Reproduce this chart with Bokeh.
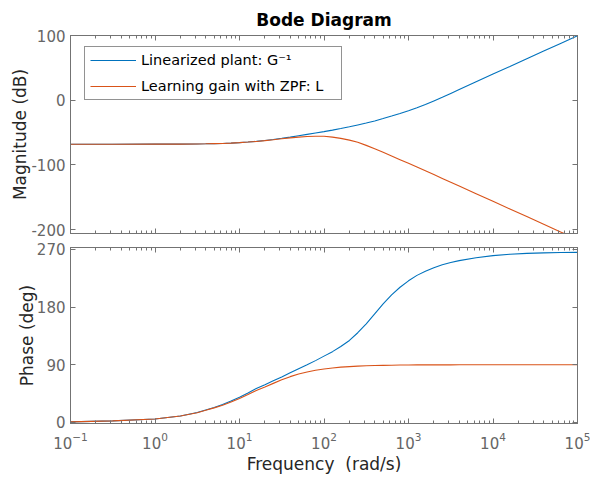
from bokeh.plotting import figure
from bokeh.models import (FixedTicker, LogAxis, LinearAxis, Legend, LegendItem,
                          CustomJSTickFormatter)
from bokeh.layouts import column
from bokeh.embed import file_html
from bokeh.resources import INLINE

# ---- data (frequency in rad/s) ----
freq = [0.1, 0.316, 1, 2, 3.16, 3.98, 5.01, 6.31, 7.94, 10, 12.6, 15.8, 20,
        25.1, 31.6, 39.8, 50.1, 63.1, 79.4, 100, 126, 158, 200, 251, 316, 398,
        501, 631, 794, 1000, 1259, 1585, 1995, 2512, 3162, 3981, 6310, 10000,
        15849, 25119, 39811, 63096, 100000]

mag_plant_inv = [-68, -68, -67.9, -67.8, -67.6, -67.4, -67.1, -66.8, -66.3,
                 -65.6, -64.7, -63.6, -62.2, -60.7, -58.9, -57, -54.9, -52.8,
                 -50.7, -48.6, -46.3, -43.8, -41.1, -38.2, -35.2, -32, -28.4,
                 -24.5, -20.4, -16.2, -11.7, -6.8, -1.2, 4.5, 10.5, 16.5, 28.5,
                 40.5, 52, 64, 76, 87.8, 99.5]
mag_learning = [-68, -68, -67.9, -67.8, -67.6, -67.4, -67.1, -66.8, -66.3,
                -65.6, -64.7, -63.7, -62.4, -61.1, -59.6, -58.2, -57, -56.1,
                -55.6, -55.8, -57, -59, -61.7, -65, -69.8, -75, -80.5, -86.2,
                -91.9, -97.6, -103.4, -109.2, -115, -120.9, -126.8, -132.7,
                -144.5, -156.3, -168.1, -179.9, -191.7, -203.5, -215.3]

phase_plant_inv = [1, 2.5, 5.5, 10, 15.5, 19.5, 23.5, 28, 33.5, 39.5, 46, 53,
                   59, 65, 71, 77.5, 84, 90, 96.5, 103.5, 110.5, 118.5, 128,
                   140, 154, 169.5, 185, 199, 211, 221, 229.5, 236, 241.5, 246,
                   249.5, 252.5, 257, 260.3, 262.5, 263.8, 264.6, 265.1, 265.4]
phase_learning = [1, 2.5, 5.5, 10, 15.3, 19, 22.8, 27, 32, 37.3, 43.5, 50,
                  55.5, 61, 66.5, 71.5, 75.5, 78.8, 81.5, 83.5, 85.1, 86.3,
                  87.2, 87.9, 88.4, 88.8, 89.1, 89.4, 89.6, 89.7, 89.8, 89.8,
                  89.9, 89.9, 89.9, 90, 90, 90, 90, 90, 90, 90, 90]

series_labels = ["Linearized plant: G\u207b\u00b9", "Learning gain with ZPF: L"]
mag_ticks = [-200, -100, 0, 100]
phase_ticks = [0, 90, 180, 270]
freq_ticks = [0.1, 1, 10, 100, 1000, 10000, 100000]
freq_minor = [m * t for t in freq_ticks[:-1] for m in range(2, 10)]

BLUE = "#0072BD"
ORANGE = "#D95319"
AXC = "#737373"
TICKC = "#666666"
LABC = "#262626"
FONT = "DejaVu Sans"

W = 590


def style_axis(ax, show_labels=True):
    ax.axis_line_color = AXC
    ax.major_tick_line_color = AXC
    ax.minor_tick_line_color = AXC
    ax.major_tick_in = 5
    ax.major_tick_out = 0
    ax.minor_tick_in = 3
    ax.minor_tick_out = 0
    ax.major_label_text_font = FONT
    ax.major_label_text_color = TICKC
    ax.major_label_text_font_size = "15px"
    if not show_labels:
        ax.formatter = CustomJSTickFormatter(code="return ''")
        ax.major_label_text_font_size = "1px"
        ax.major_label_standoff = 0
    ax.axis_label_text_font = FONT
    ax.axis_label_text_font_style = "normal"
    ax.axis_label_text_font_size = "17px"
    ax.axis_label_text_color = LABC


def base_fig(height, y_range, yt, mb_top, mb_bottom, x_labels, ylab,
             ylab_standoff, xlab=None):
    p = figure(width=W, height=height, x_axis_type="log",
               x_range=(0.1, 100000), y_range=y_range,
               output_backend="svg", toolbar_location=None,
               min_border_left=70, min_border_right=13,
               min_border_top=mb_top, min_border_bottom=mb_bottom)
    p.grid.visible = False
    p.outline_line_color = AXC
    p.background_fill_color = "white"
    p.border_fill_color = "white"
    xt = FixedTicker(ticks=freq_ticks, minor_ticks=freq_minor)
    ytk = FixedTicker(ticks=yt, minor_ticks=[])
    bx = p.below[0]
    ly = p.left[0]
    bx.ticker = xt
    ly.ticker = ytk
    style_axis(bx, x_labels)
    if x_labels:
        bx.major_label_standoff = 8
    if xlab:
        bx.axis_label = xlab
        bx.axis_label_standoff = 2
    style_axis(ly, True)
    ly.major_label_overrides = {t: str(t) for t in yt}
    ly.major_label_standoff = 5
    ly.axis_label_standoff = ylab_standoff
    ly.axis_label = ylab
    top = LogAxis(ticker=xt)
    style_axis(top, False)
    right = LinearAxis(ticker=ytk)
    style_axis(right, False)
    p.add_layout(top, "above")
    p.add_layout(right, "right")
    return p


# ---- magnitude ----
p1 = base_fig(240, (-206, 100), mag_ticks, 35, 7, False, "Magnitude (dB)", -2)
r1 = p1.line(freq, mag_plant_inv, line_color=BLUE, line_width=1.1)
r2 = p1.line(freq, mag_learning, line_color=ORANGE, line_width=1.1)
p1.title.text = "Bode Diagram"
p1.title.align = "center"
p1.title.text_font = FONT
p1.title.text_font_size = "17px"
p1.title.text_font_style = "bold"
p1.title.text_color = "#000000"
p1.title.standoff = 12

legend = Legend(items=[LegendItem(label=series_labels[0], renderers=[r1]),
                       LegendItem(label=series_labels[1], renderers=[r2])],
                location=(14, 133))
legend.padding = 5
legend.spacing = 10
legend.label_height = 16
legend.glyph_height = 16
legend.glyph_width = 46
legend.label_standoff = 5
legend.label_width = 195
legend.label_text_font = FONT
legend.label_text_font_size = "14.5px"
legend.label_text_color = "#000000"
legend.border_line_color = LABC
legend.border_line_width = 1
legend.background_fill_color = "white"
legend.background_fill_alpha = 1
p1.add_layout(legend)

# ---- phase ----
p2 = base_fig(236, (-1.6, 273), phase_ticks, 7, 53, True, "Phase (deg)", -3,
              "Frequency\u00a0 (rad/s)")
p2.x_range = p1.x_range
p2.line(freq, phase_plant_inv, line_color=BLUE, line_width=1.1)
p2.line(freq, phase_learning, line_color=ORANGE, line_width=1.1)

layout = column(p1, p2)
open("out.html", "w").write(file_html(layout, INLINE))
